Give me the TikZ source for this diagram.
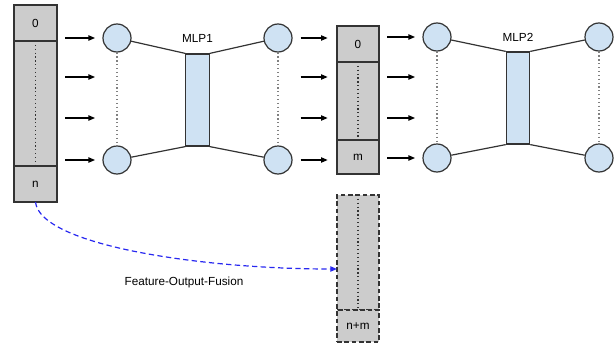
\documentclass[tikz,border=0pt]{standalone}
\usepackage{fontspec}
\setmainfont{Liberation Sans}
\usetikzlibrary{positioning,arrows.meta}
\definecolor{cellgray}{RGB}{204,204,204}
\definecolor{unitblue}{RGB}{207,226,243}
\definecolor{linegray}{RGB}{51,51,51}
\definecolor{fusionblue}{RGB}{40,40,240}
\begin{document}
\begin{tikzpicture}[x=0.75pt, y=-0.75pt, line width=0.9pt, >={Triangle[length=5pt,width=4pt]}, font=\fontsize{8.8}{10}\selectfont]
\tikzstyle{cell} = [rectangle, minimum width=32.25pt, inner sep=0pt, outer sep=0pt, draw=linegray, fill=cellgray]
\tikzstyle{unit} = [circle, minimum size=21pt, inner sep=0pt, draw=linegray, fill=unitblue]
\tikzstyle{hidden} = [rectangle, minimum width=17.5pt, minimum height=69pt, inner sep=0pt, draw=linegray, fill=unitblue]
\tikzstyle{feed} = [->, shorten <=6pt, shorten >=5.5pt]
\tikzstyle{longdash} = [dash pattern=on 3.5pt off 2pt]
\useasboundingbox (0,0) rectangle (615,343);
% input vector
\node (L0) [cell, minimum height=27pt] at (35.5,23) {0};
\node (Lmid) [cell, minimum height=93.75pt, below=0pt of L0] {};
\node (Ln) [cell, minimum height=27pt, below=0pt of Lmid] {n};
% MLP1
\node (I1a) [unit] at (117,38) {};
\node (I1b) [unit] at (117,160) {};
\node (H1) [hidden] at (197.5,100) {};
\node (O1a) [unit] at (278,38) {};
\node (O1b) [unit] at (278,160) {};
\node at (197.5,38) {MLP1};
% output of MLP1
\node (M0) [cell, minimum width=31.5pt, minimum height=27pt] at (358,44) {0};
\node (Mmid) [cell, minimum width=31.5pt, minimum height=58.5pt, below=0pt of M0] {};
\node (Mm) [cell, minimum width=31.5pt, minimum height=25.5pt, below=0pt of Mmid] {m};
% MLP2
\node (I2a) [unit] at (437,37) {};
\node (I2b) [unit] at (437,158) {};
\node (H2) [hidden] at (518,98) {};
\node (O2a) [unit] at (599,37) {};
\node (O2b) [unit] at (599,158) {};
\node at (518,37) {MLP2};
% fused vector
\node (D) [cell, longdash, minimum width=31.5pt, minimum height=86.25pt] at (358,252.5) {};
\node (Dnm) [cell, longdash, minimum width=31.5pt, minimum height=24pt, below=0pt of D] {n+m};
\node (fof) at (184,282) {Feature-Output-Fusion};
\coordinate (r2) at (0,77);
\coordinate (r3) at (0,118);
\coordinate (fuse) at (D.west |- 0,269);
\foreach \r in {I1a,r2,r3,I1b} \draw [feed] (Lmid.east |- \r) -- (I1a.west |- \r);
\foreach \r in {O1a,r2,r3,O1b} \draw [feed, shorten >=7pt] (O1a.east |- \r) -- (Mmid.west |- \r);
\foreach \r in {I2a,r2,r3,I2b} \draw [feed] (Mmid.east |- \r) -- (I2a.west |- \r);
\draw [linegray] (I1a) -- (H1.north west) (H1.north east) -- (O1a);
\draw [linegray] (I1b) -- (H1.south west) (H1.south east) -- (O1b);
\draw [linegray] (I2a) -- (H2.north west) (H2.north east) -- (O2a);
\draw [linegray] (I2b) -- (H2.south west) (H2.south east) -- (O2b);
\draw [dotted, gray] (I1a) -- (I1b);
\draw [dotted, gray] (O1a) -- (O1b);
\draw [dotted, gray] (I2a) -- (I2b);
\draw [dotted, gray] (O2a) -- (O2b);
\draw [dotted, linegray] (Lmid.north) -- (Lmid.south);
\draw [dotted, linegray] (Mmid.north) -- (Mmid.south);
\draw [dotted, linegray] (D.north) -- (D.south);
\draw [->, dash pattern=on 4pt off 2.5pt, fusionblue] (Ln.south) .. controls (40,245) and (200,269) .. (fuse);
\end{tikzpicture}
\end{document}
